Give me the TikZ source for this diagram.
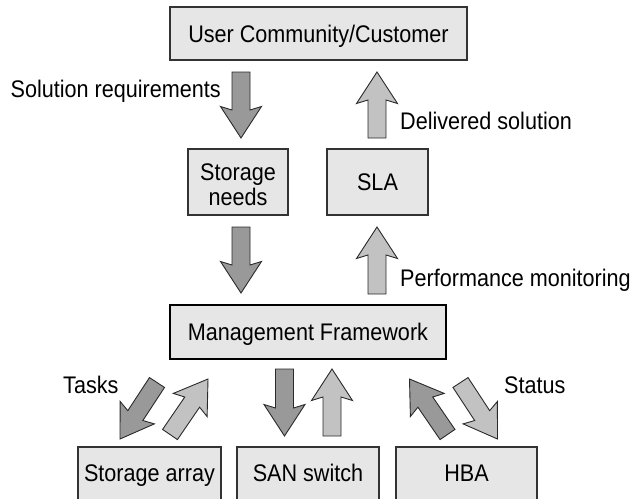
\documentclass[tikz,border=0pt]{standalone}
\usepackage{fontspec}
\setmainfont{Liberation Sans}[FakeStretch=0.9]
\usetikzlibrary{calc}
\definecolor{boxfill}{HTML}{E6E6E6}
\definecolor{boxline}{HTML}{333333}
\definecolor{darkarrow}{HTML}{999999}
\definecolor{lightarrow}{HTML}{C2C2C2}
\definecolor{arrowline}{HTML}{2A2A2A}
\newcommand\blockarrow[3]{%
  \coordinate (ba-n) at ($(#2)!28pt!(#1)$);
  \coordinate (ba-w) at ($(#2)!31.5pt!(#1)$);
  \filldraw[fill=#3, draw=arrowline, line width=0.9pt, line join=miter]
    ($(#1)!9pt!90:(#2)$) -- ($(ba-n)!9pt!90:(#2)$) -- ($(ba-w)!20.5pt!90:(#2)$) -- (#2)
    -- ($(ba-w)!20.5pt!-90:(#2)$) -- ($(ba-n)!9pt!-90:(#2)$) -- ($(#1)!9pt!-90:(#2)$) -- cycle;}
\begin{document}
\begin{tikzpicture}[x=1pt,y=-1pt,
  box/.style={draw=boxline, fill=boxfill, line width=1.2pt, inner sep=0pt,
    font=\fontsize{24}{24.5}\selectfont, text height=17.2pt, text depth=0pt},
  lbl/.style={inner sep=0pt, font=\fontsize{24}{24.5}\selectfont}]
\useasboundingbox (0,0) rectangle (634,498);
\clip (0,0) rectangle (634,498);

% boxes
\node[box, minimum width=297pt, minimum height=53pt] (cust) at (318.5,33.5) {User Community/Customer};
\node[box, minimum width=100pt, minimum height=66pt, text height=46pt, text depth=0pt] (needs) at (238,182)
  {\begin{tabular}[b]{@{}c@{}}Storage\\needs\end{tabular}};
\node[box, minimum width=101pt, minimum height=66pt] (sla) at (377.5,182) {SLA};
\node[box, draw=black, line width=2.5pt, minimum width=276pt, minimum height=54pt] (mf) at (308,332) {Management Framework};
\node[box, minimum width=143pt, minimum height=52.6pt, text depth=1.8pt] (array) at (149.5,473.3) {Storage array};
\node[box, minimum width=142pt, minimum height=52.6pt, text depth=1.8pt] (switch) at (308,473.3) {SAN switch};
\node[box, minimum width=141pt, minimum height=52.6pt, text depth=1.8pt] (hba) at (466.5,473.3) {HBA};

% labels
\node[lbl, anchor=base east] (lsol) at (221,97.5) {Solution requirements};
\node[lbl, anchor=base west] (ldel) at (400,129) {Delivered solution};
\node[lbl, anchor=base west] (lperf) at (400,286) {Performance monitoring};
\node[lbl, anchor=base west] (ltask) at (63,393) {Tasks};
\node[lbl, anchor=base west] (lstat) at (504,393) {Status};

% arrow end points
\coordinate (req-t) at (241,72);   \coordinate (req-h) at (241,138);
\coordinate (del-t) at (377,138);  \coordinate (del-h) at (377,72);
\coordinate (nm-t) at (241,227);   \coordinate (nm-h) at (241,293);
\coordinate (perf-t) at (377,294); \coordinate (perf-h) at (377,227);
\coordinate (taskA-t) at (157,382.5); \coordinate (taskA-h) at (120,439);
\coordinate (statA-t) at (170,434.5); \coordinate (statA-h) at (208,379);
\coordinate (taskS-t) at (284.5,369); \coordinate (taskS-h) at (284.5,436);
\coordinate (statS-t) at (332,436);   \coordinate (statS-h) at (332,369);
\coordinate (taskH-t) at (447.5,434.5); \coordinate (taskH-h) at (409.5,379);
\coordinate (statH-t) at (460.5,382.5); \coordinate (statH-h) at (497.5,439);

\blockarrow{req-t}{req-h}{darkarrow}
\blockarrow{del-t}{del-h}{lightarrow}
\blockarrow{nm-t}{nm-h}{darkarrow}
\blockarrow{perf-t}{perf-h}{lightarrow}
\blockarrow{taskA-t}{taskA-h}{darkarrow}
\blockarrow{statA-t}{statA-h}{lightarrow}
\blockarrow{taskS-t}{taskS-h}{darkarrow}
\blockarrow{statS-t}{statS-h}{lightarrow}
\blockarrow{taskH-t}{taskH-h}{darkarrow}
\blockarrow{statH-t}{statH-h}{lightarrow}
\end{tikzpicture}
\end{document}
